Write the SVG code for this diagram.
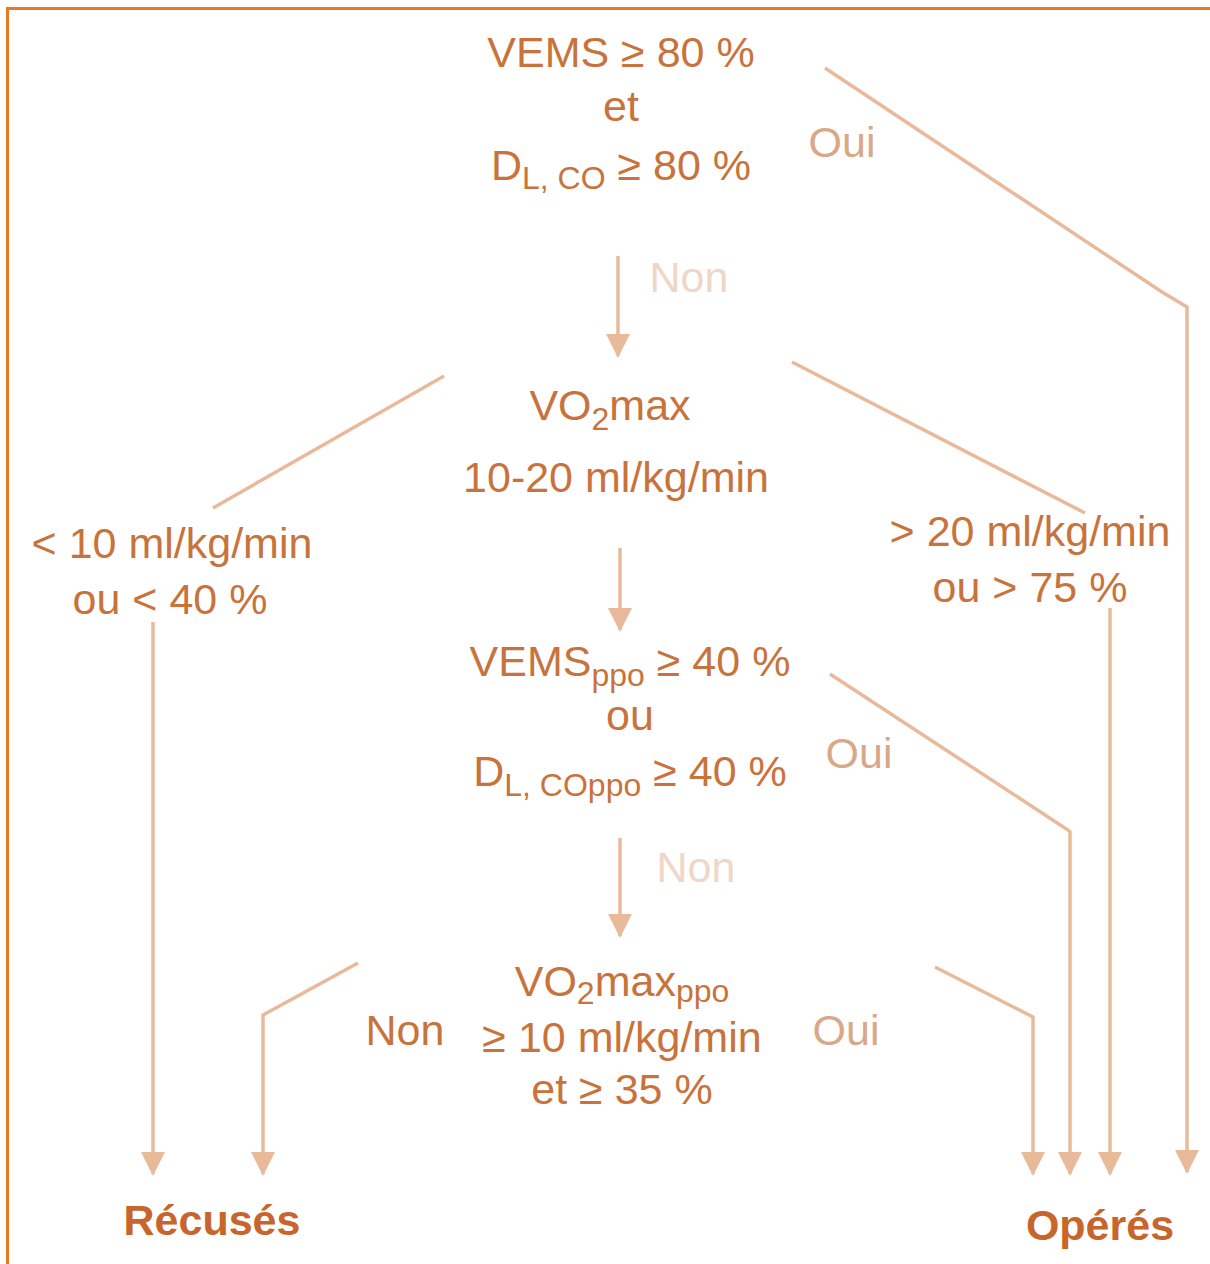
<svg xmlns="http://www.w3.org/2000/svg" width="1210" height="1264" viewBox="0 0 1210 1264">
<style>
.t{font-family:"Liberation Sans",Arial,sans-serif;font-size:43px;fill:#C9733C;text-anchor:middle}
.b{font-weight:bold;fill:#C8652C}
.oui{fill:#D9A888}
.non{fill:#F0D6C6}
.sub{font-size:32px}
.c{fill:none;stroke:#E9BA9A;stroke-width:3.5}
</style>
<defs>
<marker id="a" markerUnits="userSpaceOnUse" markerWidth="24" markerHeight="26" refX="22" refY="12" orient="auto" viewBox="0 0 24 24">
<path d="M0,0 L24,12 L0,24 Z" fill="#E9BA9A"/>
</marker>
</defs>
<rect width="1210" height="1264" fill="#fff"/>
<path d="M7.5,1264 V8.5 H1210" fill="none" stroke="#E87A22" stroke-width="3"/>
<g id="connectors">
<polyline class="c" points="825,68 1162,292 1187,307 1187,1172" marker-end="url(#a)"/>
<line class="c" x1="618" y1="256" x2="618" y2="356" marker-end="url(#a)"/>
<line class="c" x1="444" y1="376" x2="213" y2="508"/>
<line class="c" x1="792" y1="362" x2="1085" y2="513"/>
<line class="c" x1="153" y1="622" x2="153" y2="1174" marker-end="url(#a)"/>
<line class="c" x1="1110" y1="608" x2="1110" y2="1174" marker-end="url(#a)"/>
<line class="c" x1="620" y1="548" x2="620" y2="630" marker-end="url(#a)"/>
<polyline class="c" points="830,674 1068,830 1070,832 1070,1174" marker-end="url(#a)"/>
<line class="c" x1="620" y1="838" x2="620" y2="936" marker-end="url(#a)"/>
<polyline class="c" points="358,963 263,1015 263,1174" marker-end="url(#a)"/>
<polyline class="c" points="935,967 1033,1017 1033,1174" marker-end="url(#a)"/>
</g>
<g id="n1">
<text class="t" x="621" y="67">VEMS ≥ 80 %</text>
<text class="t" x="621" y="121">et</text>
<text class="t" x="621" y="180">D<tspan class="sub" dy="9">L, CO</tspan><tspan dy="-9"> ≥ 80 %</tspan></text>
</g>
<text id="oui1" class="t oui" x="842" y="157">Oui</text>
<text id="non1" class="t non" x="689" y="292">Non</text>
<g id="n2">
<text class="t" x="610" y="420">VO<tspan class="sub" dy="10">2</tspan><tspan dy="-10">max</tspan></text>
<text class="t" x="616" y="492">10-20 ml/kg/min</text>
</g>
<g id="left1">
<text class="t" x="172" y="558">&lt; 10 ml/kg/min</text>
<text class="t" x="170" y="614">ou &lt; 40 %</text>
</g>
<g id="right1">
<text class="t" x="1030" y="546">&gt; 20 ml/kg/min</text>
<text class="t" x="1030" y="602">ou &gt; 75 %</text>
</g>
<g id="n3">
<text class="t" x="630" y="676">VEMS<tspan class="sub" dy="10">ppo</tspan><tspan dy="-10"> ≥ 40 %</tspan></text>
<text class="t" x="630" y="730">ou</text>
<text class="t" x="630" y="786">D<tspan class="sub" dy="10">L, COppo</tspan><tspan dy="-10"> ≥ 40 %</tspan></text>
</g>
<text id="oui2" class="t oui" x="859" y="768">Oui</text>
<text id="non2" class="t non" x="696" y="882">Non</text>
<g id="n4">
<text class="t" x="622" y="996">VO<tspan class="sub" dy="8">2</tspan><tspan dy="-8">max</tspan><tspan class="sub" dy="6">ppo</tspan></text>
<text class="t" x="622" y="1052">≥ 10 ml/kg/min</text>
<text class="t" x="622" y="1104">et ≥ 35 %</text>
</g>
<text id="non3" class="t" x="405" y="1045">Non</text>
<text id="oui3" class="t oui" x="846" y="1045">Oui</text>
<text id="recuses" class="t b" x="212" y="1235">Récusés</text>
<text id="operes" class="t b" x="1100" y="1240">Opérés</text>
</svg>
